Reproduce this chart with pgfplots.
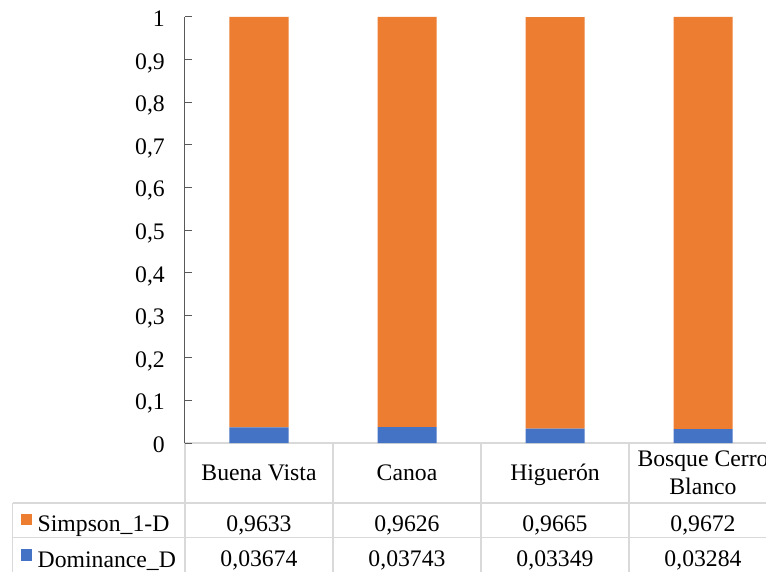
\documentclass[border=0pt]{standalone}
\usepackage{pgfplots}
\pgfplotsset{compat=1.18}
\usepackage{fontspec}
\setmainfont{Liberation Serif}
\definecolor{sorange}{RGB}{237,125,49}
\definecolor{sblue}{RGB}{68,114,196}
\definecolor{axgray}{RGB}{89,89,89}
\definecolor{tabgray}{RGB}{217,217,217}
\newcommand{\tf}{\fontsize{23.7}{28}\selectfont}
\pgfplotsset{sq legend/.style={legend image code/.code={\fill[##1] (0pt,3.8pt) rectangle (11.6pt,15.5pt);}}}
\begin{document}
\begin{tikzpicture}[x=1pt,y=1pt]
\clip (0,0) rectangle (766,571);
% data table grid
\draw[tabgray, line width=1.5pt] (185,128) -- (780,128);
\draw[tabgray, line width=1.5pt] (12.7,68) -- (780,68);
\draw[tabgray, line width=1.5pt] (12.7,33.5) -- (780,33.5);
\foreach \x in {185,333,481,629} \draw[tabgray, line width=1.5pt] (\x,128) -- (\x,-5);
\draw[tabgray, line width=1.5pt] (12.7,68) -- (12.7,-5);
\begin{axis}[
  at={(185pt,128pt)}, anchor=south west,
  scale only axis, width=592pt, height=426pt,
  xmin=-0.5, xmax=3.5, ymin=0, ymax=1,
  ybar stacked, bar width=59pt,
  axis x line=none, axis y line*=left,
  ytick={0,0.1,0.2,0.3,0.4,0.5,0.6,0.7,0.8,0.9,1},
  tick align=inside, major tick length=7pt,
  y axis line style={axgray, line width=1pt},
  ytick style={axgray, line width=1pt},
  yticklabel style={font=\tf, anchor=base east, inner sep=0pt, xshift=-20pt, yshift=-9.5pt},
  /pgf/number format/.cd, use comma, fixed, precision=1, assume math mode=true,
  /pgfplots/.cd,
  reverse legend,
  legend cell align=left,
  legend style={at={(-0.2775,-0.1655)}, anchor=north west, draw=none, fill=none,
    inner sep=0pt, outer sep=0pt, row sep=11.5pt, font=\tf,
    nodes={inner sep=0pt, text height=17pt, text depth=6pt, yshift=3pt},
    /tikz/every odd column/.append style={column sep=5.4pt}},
]
\addplot[fill=sblue, draw=none, sq legend]
  coordinates {(0,0.03674) (1,0.03743) (2,0.03349) (3,0.03284)};
\addplot[fill=sorange, draw=none, sq legend]
  coordinates {(0,0.9633) (1,0.9626) (2,0.9665) (3,0.9672)};
\legend{Dominance\_D, Simpson\_1-D}
\end{axis}
\tikzset{tt/.style={font=\tf, anchor=base, inner sep=0pt}}
\node[tt] at (259,90.3) {Buena Vista};
\node[tt] at (407,90.3) {Canoa};
\node[tt] at (555,90.3) {Higuerón};
\node[tt] at (703,104.3) {Bosque Cerro};
\node[tt] at (703,77) {Blanco};
\node[tt] at (259,40) {0,9633};
\node[tt] at (407,40) {0,9626};
\node[tt] at (555,40) {0,9665};
\node[tt] at (703,40) {0,9672};
\node[tt] at (259,5) {0,03674};
\node[tt] at (407,5) {0,03743};
\node[tt] at (555,5) {0,03349};
\node[tt] at (703,5) {0,03284};
\end{tikzpicture}
\end{document}
